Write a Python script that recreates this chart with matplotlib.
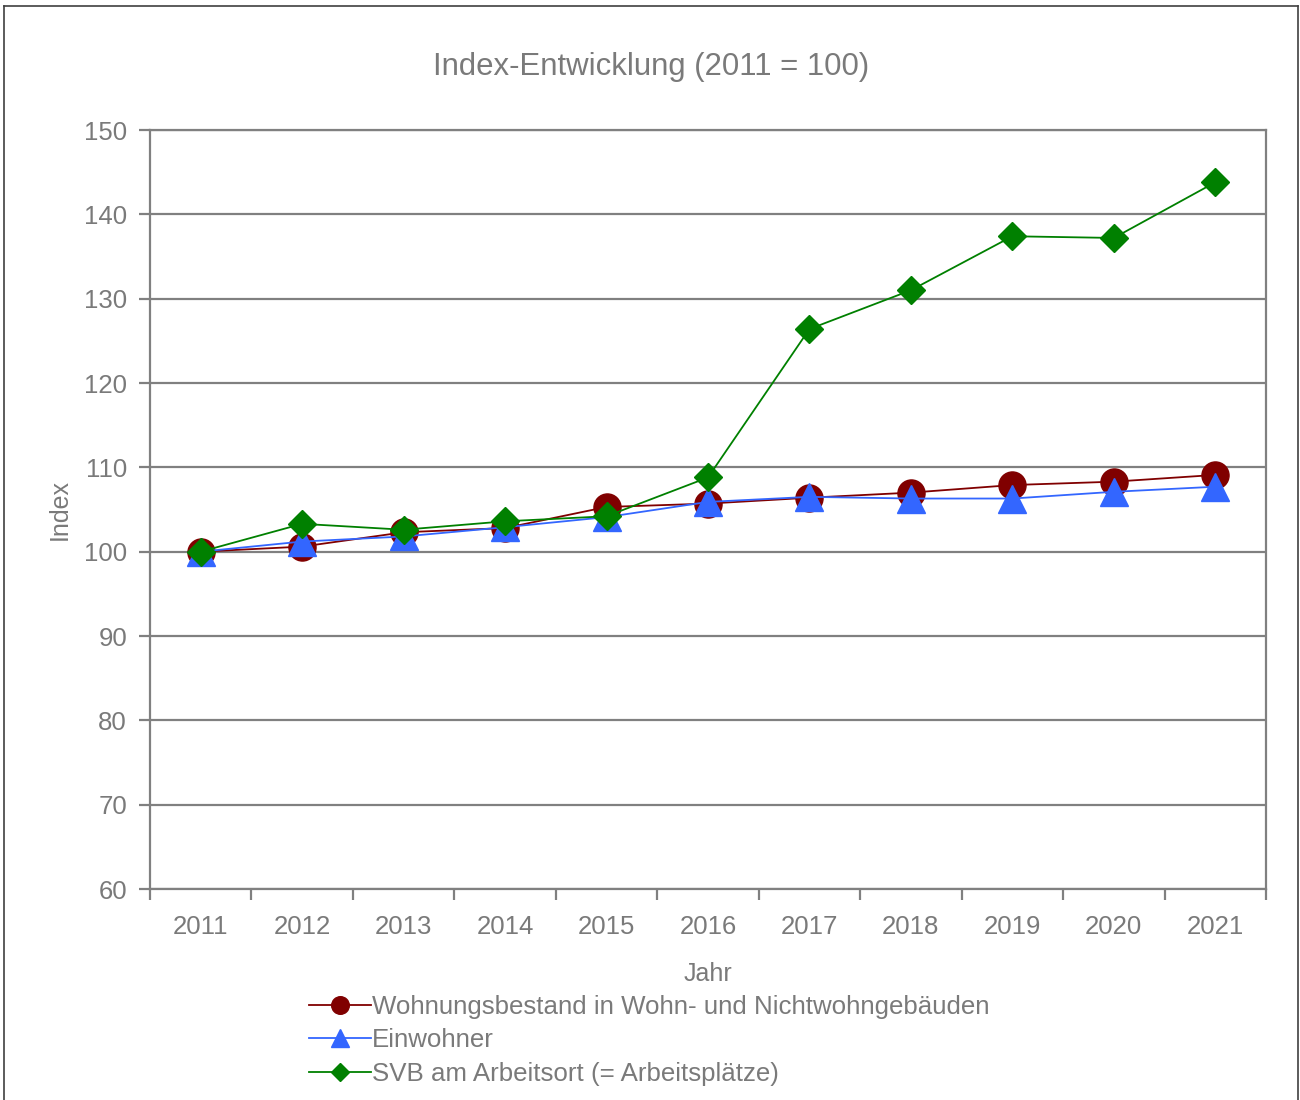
import matplotlib
matplotlib.use("Agg")
import matplotlib.pyplot as plt
from matplotlib.lines import Line2D
from matplotlib.ticker import FixedLocator, NullFormatter

plt.rcParams['font.family'] = ['Liberation Sans', 'DejaVu Sans']

years = ["2011", "2012", "2013", "2014", "2015", "2016", "2017", "2018", "2019", "2020", "2021"]
wohnungen = [100.0, 100.6, 102.3, 102.8, 105.3, 105.7, 106.4, 107.0, 107.9, 108.3, 109.1]
einwohner = [100.0, 101.2, 101.8, 102.9, 104.1, 105.9, 106.5, 106.3, 106.3, 107.1, 107.7]
svb = [100.0, 103.3, 102.6, 103.6, 104.2, 108.8, 126.4, 131.0, 137.4, 137.2, 143.8]

labels = ["Wohnungsbestand in Wohn- und Nichtwohngebäuden",
          "Einwohner",
          "SVB am Arbeitsort (= Arbeitsplätze)"]
title = "Index-Entwicklung (2011 = 100)"
yticks = [60, 70, 80, 90, 100, 110, 120, 130, 140, 150]

grey = "#808080"
txt = "#7a7a7a"

W, H = 1300, 1100
fig = plt.figure(figsize=(W / 100, H / 100), dpi=100)
ax = fig.add_axes([150 / W, 1 - 889 / H, (1266 - 150) / W, (889 - 130) / H])

x = list(range(len(years)))
ax.plot(x, wohnungen, color="#800000", lw=1.3, marker="o", ms=19.5, label=labels[0], zorder=3)
ax.plot(x, einwohner, color="#3366ff", lw=1.3, marker="^", ms=19.5, label=labels[1], zorder=4)
ax.plot(x, svb, color="#008000", lw=1.3, marker="D", ms=13.8, label=labels[2], zorder=5)

ax.set_xlim(-0.5, len(years) - 0.5)
ax.set_ylim(60, 150)
ax.set_yticks(yticks)
ax.yaxis.grid(True, color=grey, lw=1.6)
ax.set_axisbelow(True)

ax.set_xticks(x)
ax.set_xticklabels(years)
ax.xaxis.set_minor_locator(FixedLocator([i - 0.5 for i in range(len(years) + 1)]))
ax.xaxis.set_minor_formatter(NullFormatter())
ax.tick_params(axis="x", which="major", length=0, pad=19, labelsize=18.5, labelcolor=txt)
ax.tick_params(axis="x", which="minor", length=8, width=1.6, color=grey, direction="out")
ax.tick_params(axis="y", length=8, width=1.6, color=grey, pad=8.5, labelsize=18.5, labelcolor=txt)

for s in ax.spines.values():
    s.set_color(grey)
    s.set_linewidth(1.6)

fig.suptitle(title, fontsize=22.4, color=txt, x=651 / W, y=1 - 67 / H, va="center")
ax.set_xlabel("Jahr", fontsize=18, color=txt)
ax.xaxis.set_label_coords(0.5, (889 - 962) / 759)
ax.set_ylabel("Index", fontsize=18, color=txt)
ax.yaxis.set_label_coords(-0.07, 0.5)

leg = fig.legend(loc="upper center", bbox_to_anchor=(649 / W, 1 - 995 / H), frameon=False,
                 fontsize=18.6, markerscale=0.65, handlelength=2.4, handletextpad=0.05,
                 labelspacing=0.36, borderpad=0, borderaxespad=0)
for t in leg.get_texts():
    t.set_color(txt)

# figure border
bc = "#404040"
fig.add_artist(Line2D([4 / W, 4 / W], [0, 1 - 6 / H], color=bc, lw=1.2, transform=fig.transFigure))
fig.add_artist(Line2D([4 / W, 1298 / W], [1 - 6 / H, 1 - 6 / H], color=bc, lw=1.2, transform=fig.transFigure))
fig.add_artist(Line2D([1298 / W, 1298 / W], [0, 1 - 6 / H], color=bc, lw=1.2, transform=fig.transFigure))

fig.savefig("out.png", dpi=100)
